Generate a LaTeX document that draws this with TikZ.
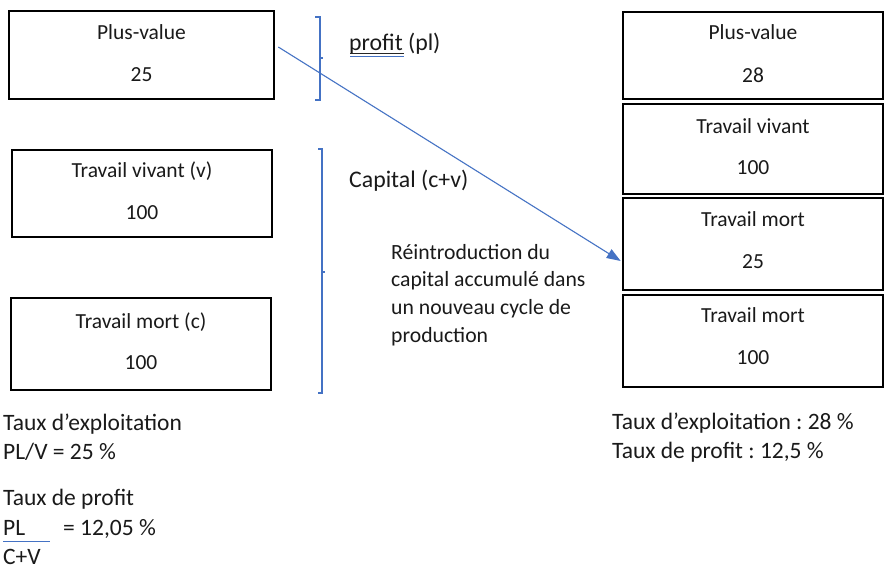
\documentclass[tikz,border=0pt]{standalone}
\usepackage{fontspec}
\setmainfont{Carlito}
\usetikzlibrary{arrows.meta}
\definecolor{acc}{HTML}{4472C4}
\definecolor{txt}{HTML}{1A1A1A}
\begin{document}
\frenchspacing
\begin{tikzpicture}[x=1pt,y=-1pt,
  box/.style={draw=black,line width=2.6pt,inner sep=0pt,rectangle},
  btxt/.style={font=\fontsize{21.5}{25}\selectfont,text=txt,inner sep=0pt,anchor=base},
  ltxt/.style={font=\fontsize{23.8}{28}\selectfont,text=txt,inner sep=0pt,anchor=base west},
  ntxt/.style={font=\fontsize{21.7}{27.6}\selectfont,text=txt,inner sep=0pt,anchor=base west,align=left},
  bottxt/.style={font=\fontsize{23.5}{28}\selectfont,text=txt,inner sep=0pt,anchor=base west},
  brace/.style={draw=acc,line width=1.2pt},
  conn/.style={draw=acc,line width=1.1pt,-{Triangle[length=14pt,width=10pt]}}]
\path[use as bounding box] (0,0) rectangle (885,573);
\fill[white] (0,0) rectangle (885,573);

% left boxes
\node[box,minimum width=265,minimum height=88] (lpv) at (141.5,55) {};
\node[btxt] (lpva) at (141.5,39) {Plus-value};
\node[btxt] (lpvb) at (141.5,81) {25};

\node[box,minimum width=260,minimum height=87] (lvv) at (142,193.5) {};
\node[btxt] (lvva) at (142,177) {Travail vivant (v)};
\node[btxt] (lvvb) at (142,219) {100};

\node[box,minimum width=260,minimum height=92] (lmc) at (141,344) {};
\node[btxt] (lmca) at (141,328) {Travail mort (c)};
\node[btxt] (lmcb) at (141,369) {100};

% right boxes
\node[box,minimum width=260,minimum height=87] (rpv) at (753,55.5) {};
\node[btxt] (rpva) at (753,39) {Plus-value};
\node[btxt] (rpvb) at (753,82) {28};

\node[box,minimum width=260,minimum height=90] (rvv) at (753,149) {};
\node[btxt] (rvva) at (753,133) {Travail vivant};
\node[btxt] (rvvb) at (753,174) {100};

\node[box,minimum width=260,minimum height=92] (rmt1) at (753,244) {};
\node[btxt] (rmt1a) at (753,226) {Travail mort};
\node[btxt] (rmt1b) at (753,268) {25};

\node[box,minimum width=260,minimum height=92] (rmt2) at (753,341) {};
\node[btxt] (rmt2a) at (753,322) {Travail mort};
\node[btxt] (rmt2b) at (753,364) {100};

% braces
\draw[brace] (315,17) -- (320,17) -- (320,100) -- (315,100);
\draw[brace] (320,58) -- (323,58);
\draw[brace] (318,149) -- (322,149) -- (322,393) -- (318,393);
\draw[brace] (322,272) -- (325,272);

% labels
\node[ltxt] (profit) at (349,50) {profit (pl)};
\draw[black!85,line width=0.9pt] (350,53.7) -- (404,53.7);
\draw[acc,line width=1pt] (350,56.7) -- (404,56.7);
\node[ltxt] (capital) at (349,187) {Capital (c+v)};
\node[ntxt] (reintro) at (391,342) {Réintroduction du\\capital accumulé dans\\un nouveau cycle de\\production};

% arrow
\draw[conn] ([xshift=3pt,yshift=8pt]lpv.east) -- ([xshift=-1pt,yshift=-17pt]rmt1.west);

% bottom left
\node[bottxt] (tx1) at (3,430) {Taux d’exploitation};
\node[bottxt] (tx2) at (3,459) {PL/V = 25 \%};
\node[bottxt] (tp1) at (3,505) {Taux de profit};
\node[bottxt] (tp2) at (3,535) {PL\hspace{38pt}= 12,05 \%};
\draw[acc,line width=1pt] (3,541) -- (50,541);
\node[bottxt] (tp3) at (3,564) {C+V};

% bottom right
\node[bottxt] (rx1) at (612,429) {Taux d’exploitation : 28 \%};
\node[bottxt] (rx2) at (612,458) {Taux de profit : 12,5 \%};
\end{tikzpicture}
\end{document}
